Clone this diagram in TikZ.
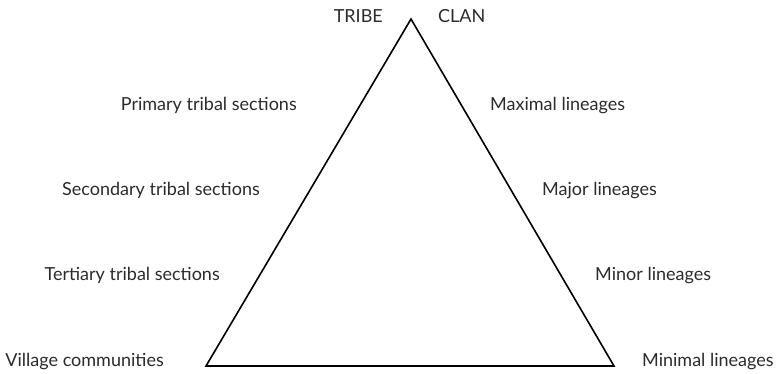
\documentclass[tikz,border=0pt]{standalone}
\usepackage{fontspec}
\setmainfont{Lato}
\definecolor{txt}{HTML}{2B2B2B}
\begin{document}
\begin{tikzpicture}[x=1pt,y=-1pt,
  lbl/.style={font=\fontsize{18}{21}\selectfont, text=txt, inner sep=0pt},
  lft/.style={lbl, anchor=base east},
  rgt/.style={lbl, anchor=base west}]
\useasboundingbox (0,0) rectangle (777,373);
\coordinate (apex) at (411,19);
\coordinate (bl) at (206,366);
\coordinate (br) at (614,366);
\draw[line width=1.6pt, line join=miter] (apex) -- (bl) -- (br) -- cycle;
\node[lft] (tribe) at (383,22) {TRIBE};
\node[rgt] (clan) at (438,22) {CLAN};
\node[lft] (p1) at (297,110) {Primary tribal sections};
\node[lft] (p2) at (260,195) {Secondary tribal sections};
\node[lft] (p3) at (220,280) {Tertiary tribal sections};
\node[lft] (p4) at (164,366) {Village communities};
\node[rgt] (q1) at (490,110) {Maximal lineages};
\node[rgt] (q2) at (542,195) {Major lineages};
\node[rgt] (q3) at (595,280) {Minor lineages};
\node[rgt] (q4) at (642,366) {Minimal lineages};
\end{tikzpicture}
\end{document}
